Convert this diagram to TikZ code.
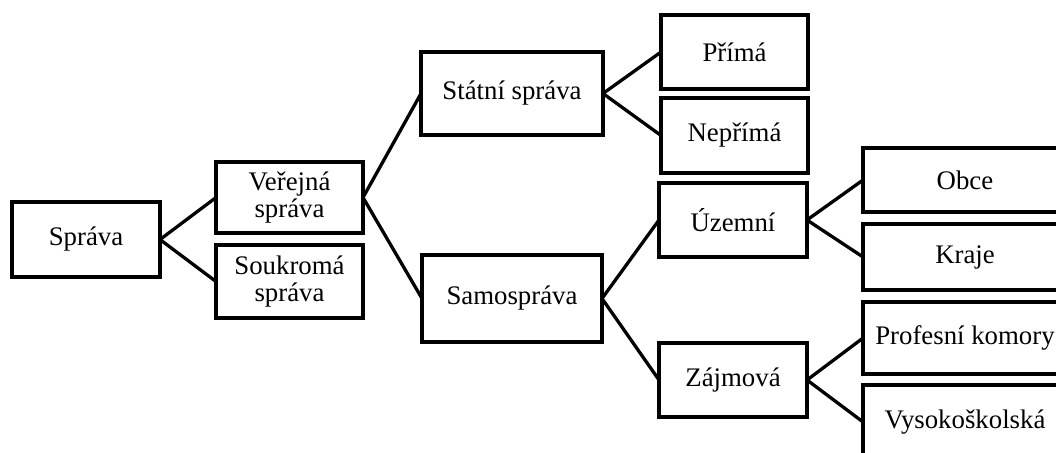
\documentclass[tikz,border=0pt]{standalone}
\usepackage{fontspec}
\setmainfont{Liberation Serif}
\begin{document}
\begin{tikzpicture}[x=1pt,y=-1pt,
  box/.style={draw=black, line width=3.3pt, fill=white, inner sep=0pt, outer sep=0pt,
    align=center, font=\fontsize{26.8}{27.5}\selectfont},
  link/.style={draw=black, line width=3.3pt}]
\useasboundingbox (0,0) rectangle (1056,452);
\clip (0,0) rectangle (1056,452);
% nodes
\node[box, minimum width=148pt, minimum height=75pt] (sprava) at (86,239.5) {Správa};
\node[box, minimum width=147pt, minimum height=71pt] (verejna) at (289.5,197.5) {Veřejná\\správa};
\node[box, minimum width=147pt, minimum height=73pt] (soukroma) at (289.5,281.5) {Soukromá\\správa};
\node[box, minimum width=182pt, minimum height=83pt] (statni) at (512,93.5) {Státní správa};
\node[box, minimum width=180pt, minimum height=87pt] (samosprava) at (512,298.5) {Samospráva};
\node[box, minimum width=147pt, minimum height=74pt] (prima) at (734.5,52) {Přímá};
\node[box, minimum width=147pt, minimum height=75pt] (neprima) at (734.5,135.5) {Nepřímá};
\node[box, minimum width=148pt, minimum height=74pt] (uzemni) at (733,220) {Územní};
\node[box, minimum width=148pt, minimum height=74pt] (zajmova) at (733,380) {Zájmová};
\node[box, minimum width=204pt, minimum height=64pt] (obce) at (965,180) {Obce};
\node[box, minimum width=204pt, minimum height=66pt] (kraje) at (965,257) {Kraje};
\node[box, minimum width=204pt, minimum height=72pt] (profesni) at (965,338) {Profesní komory};
\node[box, minimum width=204pt, minimum height=74pt] (vysoko) at (965,422) {Vysokoškolská};
% connectors
\draw[link] (sprava.east) -- (verejna.west);
\draw[link] (sprava.east) -- (soukroma.west);
\draw[link] (verejna.east) -- (statni.west);
\draw[link] (verejna.east) -- (samosprava.west);
\draw[link] (statni.east) -- (prima.west);
\draw[link] (statni.east) -- (neprima.west);
\draw[link] (samosprava.east) -- (uzemni.west);
\draw[link] (samosprava.east) -- (zajmova.west);
\draw[link] (uzemni.east) -- (obce.west);
\draw[link] (uzemni.east) -- (kraje.west);
\draw[link] (zajmova.east) -- (profesni.west);
\draw[link] (zajmova.east) -- (vysoko.west);
\end{tikzpicture}
\end{document}
